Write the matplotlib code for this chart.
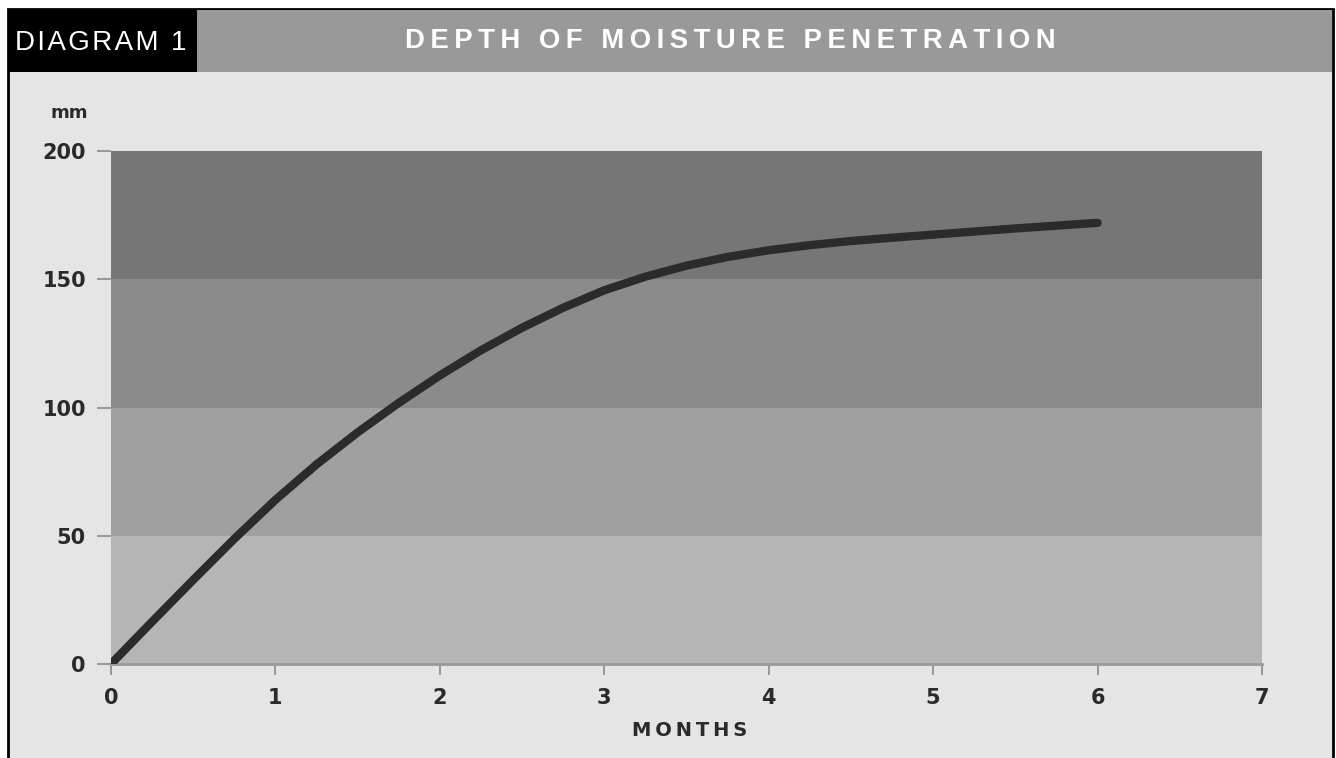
import numpy as np
import matplotlib.pyplot as plt
from matplotlib.patches import Rectangle

# depth of moisture penetration (mm) against months
months = [0, 0.25, 0.5, 0.75, 1, 1.25, 1.5, 1.75, 2, 2.25, 2.5, 2.75, 3,
          3.25, 3.5, 3.75, 4, 4.25, 4.5, 4.75, 5, 5.25, 5.5, 5.75, 6]
depth = [0, 16.5, 32.8, 48.8, 64, 77.8, 90.3, 101.8, 112.5, 122.3, 131.1, 138.9, 145.7,
         151.0, 155.3, 158.7, 161.3, 163.3, 164.9, 166.2, 167.4, 168.6, 169.8, 170.9, 172]

band_edges = [0, 50, 100, 150, 200]
band_colors = ["#b5b5b5", "#a0a0a0", "#8b8b8b", "#767676"]
xticks = [0, 1, 2, 3, 4, 5, 6, 7]
yticks = [0, 50, 100, 150, 200]

title = "DEPTH OF MOISTURE PENETRATION"
tag = "DIAGRAM 1"

W, H = 1336, 758
fig = plt.figure(figsize=(W/100, H/100), dpi=100)
fig.patch.set_facecolor("white")

# background frame drawn in pixel coords
bg = fig.add_axes([0, 0, 1, 1])
bg.set_xlim(0, W)
bg.set_ylim(H, 0)
bg.axis("off")
bg.add_patch(Rectangle((8, 9), 1325, 760, facecolor="#e5e5e5", edgecolor="black", lw=2))
bg.add_patch(Rectangle((9, 10), 1323, 62, facecolor="#999999", edgecolor="none"))
bg.add_patch(Rectangle((9, 10), 188, 62, facecolor="black", edgecolor="none"))

hfont = ["Liberation Sans", "DejaVu Sans"]
bg.text(101, 43, "\u200a".join(tag), color="white", fontsize=20, ha="center", va="center",
        family=hfont)
bg.text(730, 41, "\u2009".join(title), color="white", fontsize=19.8, fontweight="bold",
        ha="center", va="center", family=hfont)

tick_font = dict(family=["DejaVu Sans"], fontweight="heavy")
bg.text(69, 113, "mm", color="#2a2a2a", fontsize=13, ha="center", va="center", **tick_font)

ax = fig.add_axes([111/W, 1 - 664/H, (1262 - 111)/W, (664 - 151)/H])
ax.set_facecolor("none")
for i in range(len(band_colors)):
    ax.axhspan(band_edges[i], band_edges[i + 1], color=band_colors[i], lw=0, zorder=0)

ax.plot(months, depth, color="#2b2b2b", lw=6, solid_capstyle="round",
        solid_joinstyle="round", zorder=3)

ax.set_xlim(0, 7)
ax.set_ylim(0, 200)
ax.set_xticks(xticks)
ax.set_yticks(yticks)
for s in ["top", "right", "left"]:
    ax.spines[s].set_visible(False)
ax.spines["bottom"].set_color("#999999")
ax.spines["bottom"].set_linewidth(2)
ax.tick_params(axis="x", direction="out", length=8, width=1.5, color="#999999", pad=9)
ax.tick_params(axis="y", direction="out", length=10, width=1.5, color="#999999", pad=8)
for lab in ax.get_xticklabels() + ax.get_yticklabels():
    lab.set_fontsize(15)
    lab.set_fontweight("heavy")
    lab.set_color("#2a2a2a")

bg.text(690, 731, "\u2009".join("MONTHS"), color="#2a2a2a", fontsize=14, ha="center",
        va="center", **tick_font)

fig.savefig("out.png", dpi=100)
